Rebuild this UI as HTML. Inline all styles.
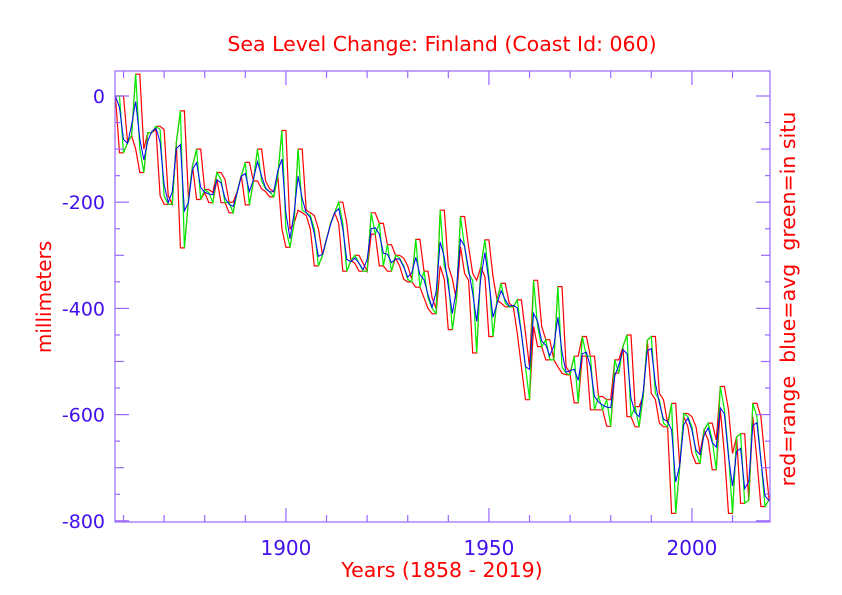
<!DOCTYPE html>
<html><head><meta charset="utf-8"><style>
body{margin:0;background:#fff;}
svg{display:block;font-family:"DejaVu Sans","Liberation Sans",sans-serif;}
</style></head><body>
<svg id="chart" width="842" height="595">
<text x="442" y="51" text-anchor="middle" fill="#ff0000" font-size="20.5">Sea Level Change: Finland (Coast Id: 060)</text>
<text transform="translate(51,297) rotate(-90)" text-anchor="middle" fill="#ff0000" font-size="20">millimeters</text>
<text x="442" y="577" text-anchor="middle" fill="#ff0000" font-size="20.5">Years (1858 - 2019)</text>
<text transform="translate(795,299) rotate(-90)" text-anchor="middle" fill="#ff0000" font-size="20.5" xml:space="preserve">red=range  blue=avg  green=in situ</text>
<g id="marks"></g>
<g id="axes"></g>
</svg>
<script>
const startYear = 1858;
const insitu = [
0,0,-107,-88,-75,41,-100,-144,-69,-69,-57,-63,-188,-204,-204,-88,-28,-286,-195,-132,
-100,-195,-176,-182,-201,-144,-157,-201,-200,-220,-180,-150,-125,-205,-160,-100,-160,-175,-180,-190,
-150,-65,
-250,-285,-240,-100,-215,-220,-225,-250,-320,-300,-270,-240,-220,-200,-240,-330,-310,-300,-315,-330,
-330,-220,-260,-240,-320,-280,-330,-300,-305,-320,-345,-350,-270,-360,-330,-380,-400,-410,-215,-320,
-345,-440,-384,-227,-284,-334,-347,-484,-322,-271,-340,-453,-384,-353,-390,-397,-397,-384,-447,-510,
-572,-347,-434,-472,-459,-497,-497,-359,-510,-522,-525,-490,-578,-453,-490,-490,-591,-566,-591,-572,
-622,-497,-522,-472,-450,-604,-585,-623,-566,-460,-453,-560,-572,-616,-623,-579,-786,-698,-598,-604,
-623,-673,-692,-629,-616,-648,-704,-547,-591,-673,-786,-642,-636,-767,-761,-579,-604,-685,-773,-760
];
const yTicks = [0,-200,-400,-600,-800];
const xTicks = [1900,1950,2000];

const X0=115,X1=770,Y0=71,Y1=522;
const xs = yr => X0 + (yr-1857.9)*4.06;
const ys = v => 96 - v*0.531;
const NS="http://www.w3.org/2000/svg";
const marks=document.getElementById('marks'), axes=document.getElementById('axes');
function mk(tag,attrs,parent){const e=document.createElementNS(NS,tag);for(const k in attrs)e.setAttribute(k,attrs[k]);parent.appendChild(e);return e;}

const n=insitu.length;
const upper=[],lower=[],avg=[];
for(let i=0;i<n;i++){
  const a=insitu[Math.max(0,i-1)], b=insitu[i], c=insitu[Math.min(n-1,i+1)];
  upper.push(Math.max(a,b)); lower.push(Math.min(b,c));
  avg.push(0.6*b+0.2*a+0.2*c);
}
function pts(arr){return arr.map((v,i)=>xs(startYear+i).toFixed(1)+','+ys(v).toFixed(1)).join(' ');}
let l;
l=mk('polyline',{points:pts(upper),fill:'none',stroke:'#ff0000','stroke-width':1.2},marks);


l=mk('polyline',{points:pts(lower),fill:'none',stroke:'#ff0000','stroke-width':1.2},marks);


l=mk('polyline',{points:pts(insitu),fill:'none',stroke:'#00ee00','stroke-width':1.2},marks);


l=mk('polyline',{points:pts(avg),fill:'none',stroke:'#0000ff','stroke-width':1},marks);



const AX='#9966ff', TX='#4411ee';
l=mk('rect',{x:X0,y:Y0,width:X1-X0,height:Y1-Y0,fill:'none',stroke:AX,'stroke-width':1.2},axes);


for(let v=0;v>=-800;v-=50){
  const len = v%200===0?14:(v%100===0?9:5);
  const y=ys(v);
  mk('line',{x1:X0,y1:y,x2:X0+len,y2:y,stroke:AX,'stroke-width':1.2},axes);
  mk('line',{x1:X1,y1:y,x2:X1-len,y2:y,stroke:AX,'stroke-width':1.2},axes);
}
yTicks.forEach(v=>{
  const t=mk('text',{x:X0-10,y:ys(v)+7,'text-anchor':'end',fill:TX,'font-size':19},axes);
  t.textContent=v;
  
  
});
for(let yr=1860;yr<=2010;yr+=10){
  const len = yr%50===0?14:7;
  const x=xs(yr);
  mk('line',{x1:x,y1:Y1,x2:x,y2:Y1-len,stroke:AX,'stroke-width':1.2},axes);
  mk('line',{x1:x,y1:Y0,x2:x,y2:Y0+len,stroke:AX,'stroke-width':1.2},axes);
}
xTicks.forEach(yr=>{
  const t=mk('text',{x:xs(yr),y:Y1+33,'text-anchor':'middle',fill:TX,'font-size':20},axes);
  t.textContent=yr;
  
  
});
</script>
</body></html>
